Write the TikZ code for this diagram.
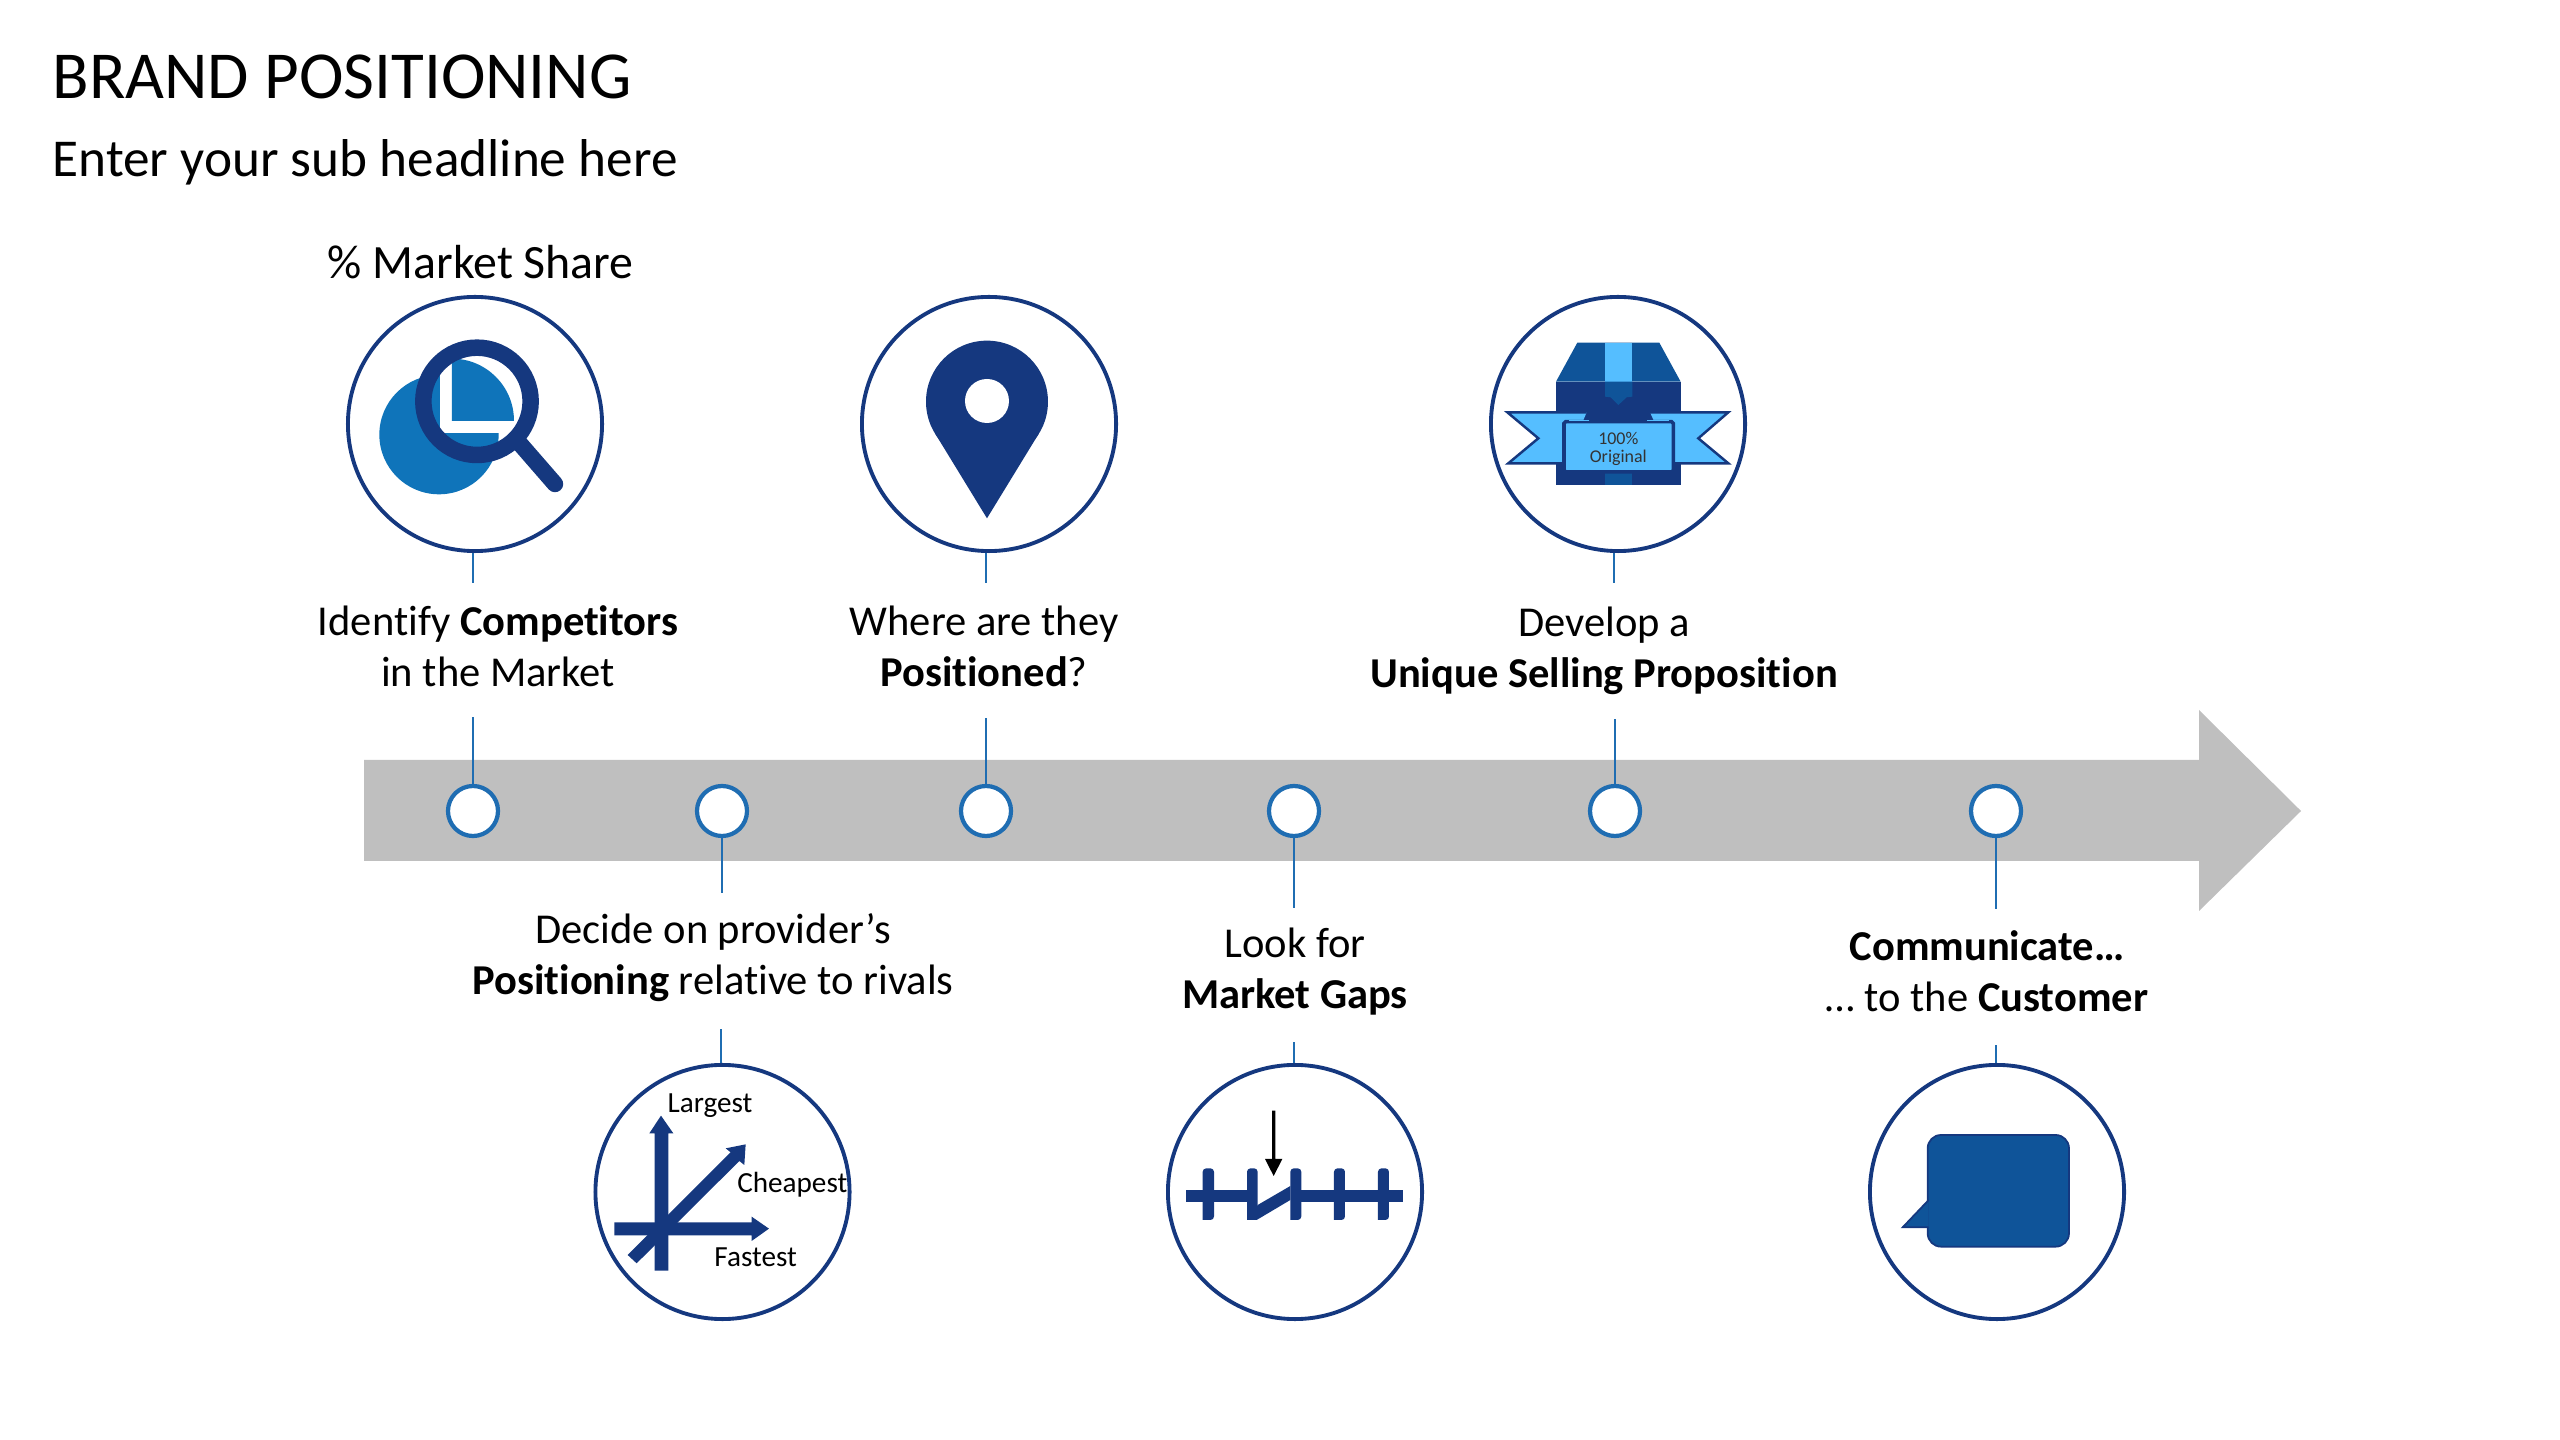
\documentclass[tikz,border=0pt]{standalone}
\usepackage{fontspec}
\setmainfont[Ligatures=NoCommon]{Carlito}
\usepackage{tikz}
\usetikzlibrary{arrows.meta,positioning,calc}
\definecolor{navyblue}{HTML}{15387F}
\definecolor{midblue}{HTML}{0F5499}
\definecolor{discblue}{HTML}{0F74BA}
\definecolor{dotblue}{HTML}{1F6DB2}
\definecolor{skyblue}{HTML}{55BEFF}
\definecolor{bargray}{HTML}{BFBFBF}

\begin{document}
\begin{tikzpicture}[
  x=0.01cm, y=-0.01cm,
  rimcircle/.style={draw=navyblue, circle, line width=1.1pt, minimum size=2.54cm, inner sep=0},
  dotcircle/.style={draw=dotblue, fill=white, circle, line width=1.2pt, minimum size=0.5cm, inner sep=0},
  stem/.style={draw=dotblue, line width=0.6pt},
  headline/.style={anchor=base west, inner sep=0, font=\fontsize{19.1}{23}\selectfont},
  subline/.style={anchor=base west, inner sep=0, font=\fontsize{15.15}{18}\selectfont},
  steplabel/.style={align=center, inner sep=0, font=\fontsize{12.1}{14.5}\selectfont},
  axislabel/.style={inner sep=0, font=\fontsize{8.3}{10}\selectfont}
]
\useasboundingbox (0,0) rectangle (2560,1440);

% Titel
\node[headline] (title) at (52,99) {BRAND POSITIONING};
\node[subline] (subtitle) at (52,177) {Enter your sub headline here};
\node[anchor=base west, inner sep=0, font=\fontsize{13.6}{16}\selectfont] (share) at (327,279) {\% Market Share};

% Pfeil
\fill[bargray] (364,760) -- (2199,760) -- (2199,710) -- (2301,811) -- (2199,911) -- (2199,861) -- (364,861) -- cycle;

% Punkte auf dem Pfeil
\node[dotcircle] (dota) at (473,811) {};
\node[dotcircle] (dotb) at (722,811) {};
\node[dotcircle] (dotc) at (986,811) {};
\node[dotcircle] (dotd) at (1294,811) {};
\node[dotcircle] (dote) at (1615,811) {};
\node[dotcircle] (dotf) at (1996,811) {};

% Kreise oben und unten
\node[rimcircle] (rima) at (475,424) {};
\node[rimcircle] (rimc) at (989,424) {};
\node[rimcircle] (rime) at (1618,424) {};
\node[rimcircle] (rimb) at (722.5,1192) {};
\node[rimcircle] (rimd) at (1295,1192) {};
\node[rimcircle] (rimf) at (1997,1192) {};

% Texte
\node[steplabel] (texta) at (498,646) {Identify \textbf{Competitors}\\in the Market};
\node[steplabel] (textc) at (984,646) {Where are they\\\textbf{Positioned}?};
\node[steplabel] (texte) at (1604,651) {Develop a\\\textbf{Unique Selling Proposition}};
\node[steplabel] (textb) at (713,958) {Decide on provider’s\\\textbf{Positioning} relative to rivals};
\node[steplabel] (textd) at (1295,972) {Look for\\\textbf{Market Gaps}};
\node[steplabel] (textf) at (1987,971) {\textbf{Communicate…}\\… to the \textbf{Customer}};

% freie Enden
\coordinate (enda) at (473,717);
\coordinate (endb) at (722,893);
\coordinate (endc) at (986,718);
\coordinate (endd) at (1294,908);
\coordinate (ende) at (1615,719);
\coordinate (endf) at (1996,909);
\coordinate (taila) at (473,583);
\coordinate (tailb) at (721,1029);
\coordinate (tailc) at (986,583);
\coordinate (taild) at (1294,1042);
\coordinate (taile) at (1614,583);
\coordinate (tailf) at (1996,1045);

% Verbindungen
\draw[stem] (dota) -- (enda);
\draw[stem] (dotb) -- (endb);
\draw[stem] (dotc) -- (endc);
\draw[stem] (dotd) -- (endd);
\draw[stem] (dote) -- (ende);
\draw[stem] (dotf) -- (endf);
\draw[stem] (taila |- rima.south) -- (taila);
\draw[stem] (tailb |- rimb.north) -- (tailb);
\draw[stem] (tailc |- rimc.south) -- (tailc);
\draw[stem] (taild |- rimd.north) -- (taild);
\draw[stem] (taile |- rime.south) -- (taile);
\draw[stem] (tailf |- rimf.north) -- (tailf);

% Lupe
\begin{scope}[shift={(320,280)}, scale=0.3333]
  \fill[discblue] (357,464) circle (179);
  \fill[white] (471,364) circle (140);
  \begin{scope}
    \clip (471,364) circle (140);
    \fill[discblue] (357,464) circle (179);
    \fill[white] (360,100) rectangle (800,460);
    \begin{scope}
      \clip (396,422) rectangle (800,100);
      \fill[discblue] (396,422) circle (186);
    \end{scope}
  \end{scope}
  \draw[navyblue, line width=0.165cm] (471,364) circle (161);
  \draw[navyblue, line width=0.165cm, line cap=round] (592,482) -- (705,612);
\end{scope}

% Stecknadel
\begin{scope}[shift={(840,280)}, scale=0.3333]
  \fill[navyblue] (441,365) circle (183);
  \fill[navyblue] (285,460) -- (441,715) -- (597,460) -- cycle;
  \fill[white] (441,363) circle (66);
\end{scope}

% Karton mit Band
\begin{scope}[shift={(1470,280)}, scale=0.3333]
  \fill[navyblue] (258,305) rectangle (632,616);
  \fill[midblue] (322,188) -- (568,188) -- (632,305) -- (258,305) -- cycle;
  \fill[skyblue] (405,188) rectangle (487,305);
  \fill[midblue] (405,305) -- (487,305) -- (487,350) -- (470,352) -- (445,375) -- (422,352) -- (405,350) -- cycle;
  \fill[midblue] (405,570) rectangle (487,616);
  \draw[navyblue, fill=skyblue, line width=0.7pt] (350,397) -- (112,397) -- (205,475) -- (115,550) -- (285,550);
  \draw[navyblue, fill=skyblue, line width=0.7pt] (540,397) -- (775,397) -- (685,475) -- (775,550) -- (610,550);
  \draw[navyblue, fill=skyblue, line width=1pt, rounded corners=0.5pt] (282,425) rectangle (610,576);
  \draw[skyblue, line width=0.35pt] (298,421) -- (358,421);
  \draw[skyblue, line width=0.35pt] (532,421) -- (597,421);
  \node[inner sep=0, align=center, text=black!80, font=\fontsize{5.1}{5.1}\selectfont] (tagtext) at (445,506) {100\%\\Original};
\end{scope}

% Achsen
\begin{scope}[shift={(580,1050)}, scale=0.3333]
  \fill[navyblue] (224,662) -- (224,250) -- (208,250) -- (243,197) -- (280,250) -- (265,250) -- (265,662) -- cycle;
  \fill[navyblue] (103,517) -- (515,517) -- (515,500) -- (567,536) -- (515,573) -- (515,556) -- (103,556) -- cycle;
  \fill[navyblue] (143,615) -- (452,307) -- (437,295) -- (497,283) -- (493,345) -- (478,333) -- (170,640) -- cycle;
  \node[axislabel] (largest) at (390,166) {Largest};
  \node[axislabel] (cheapest) at (637,403) {Cheapest};
  \node[axislabel] (fastest) at (527,623) {Fastest};
\end{scope}

% Zaun mit Luecke
\begin{scope}[shift={(1150,1050)}, scale=0.3333]
  \fill[navyblue] (107,421) rectangle (291,455);
  \fill[navyblue] (454,421) rectangle (760,455);
  \fill[navyblue, rounded corners=1pt] (158,510) -- (158,355) -- (192,355) -- (192,510) [sharp corners] -- cycle;
  \fill[navyblue, rounded corners=1pt] (291,510) -- (291,355) -- (323,355) -- (323,510) [sharp corners] -- cycle;
  \fill[navyblue, rounded corners=1pt] (421,510) -- (421,355) -- (454,355) -- (454,510) [sharp corners] -- cycle;
  \fill[navyblue, rounded corners=1pt] (552,510) -- (552,355) -- (585,355) -- (585,510) [sharp corners] -- cycle;
  \fill[navyblue, rounded corners=1pt] (684,510) -- (684,355) -- (717,355) -- (717,510) [sharp corners] -- cycle;
  \fill[navyblue] (323,465) -- (421,408) -- (421,450) -- (320,510) -- (300,510) -- cycle;
  \fill[black] (366,182) -- (376,182) -- (376,327) -- (397,327) -- (371,378) -- (345,327) -- (366,327) -- cycle;
\end{scope}

% Sprechblase
\begin{scope}[shift={(1850,1050)}, scale=0.3333]
  \draw[navyblue, fill=midblue, line width=0.5pt, rounded corners=0.133cm] (233,255) rectangle (657,590);
  \filldraw[fill=midblue, draw=navyblue, line width=0.5pt] (236,450) -- (158,532) -- (236,532);
\end{scope}

\end{tikzpicture}
\end{document}
